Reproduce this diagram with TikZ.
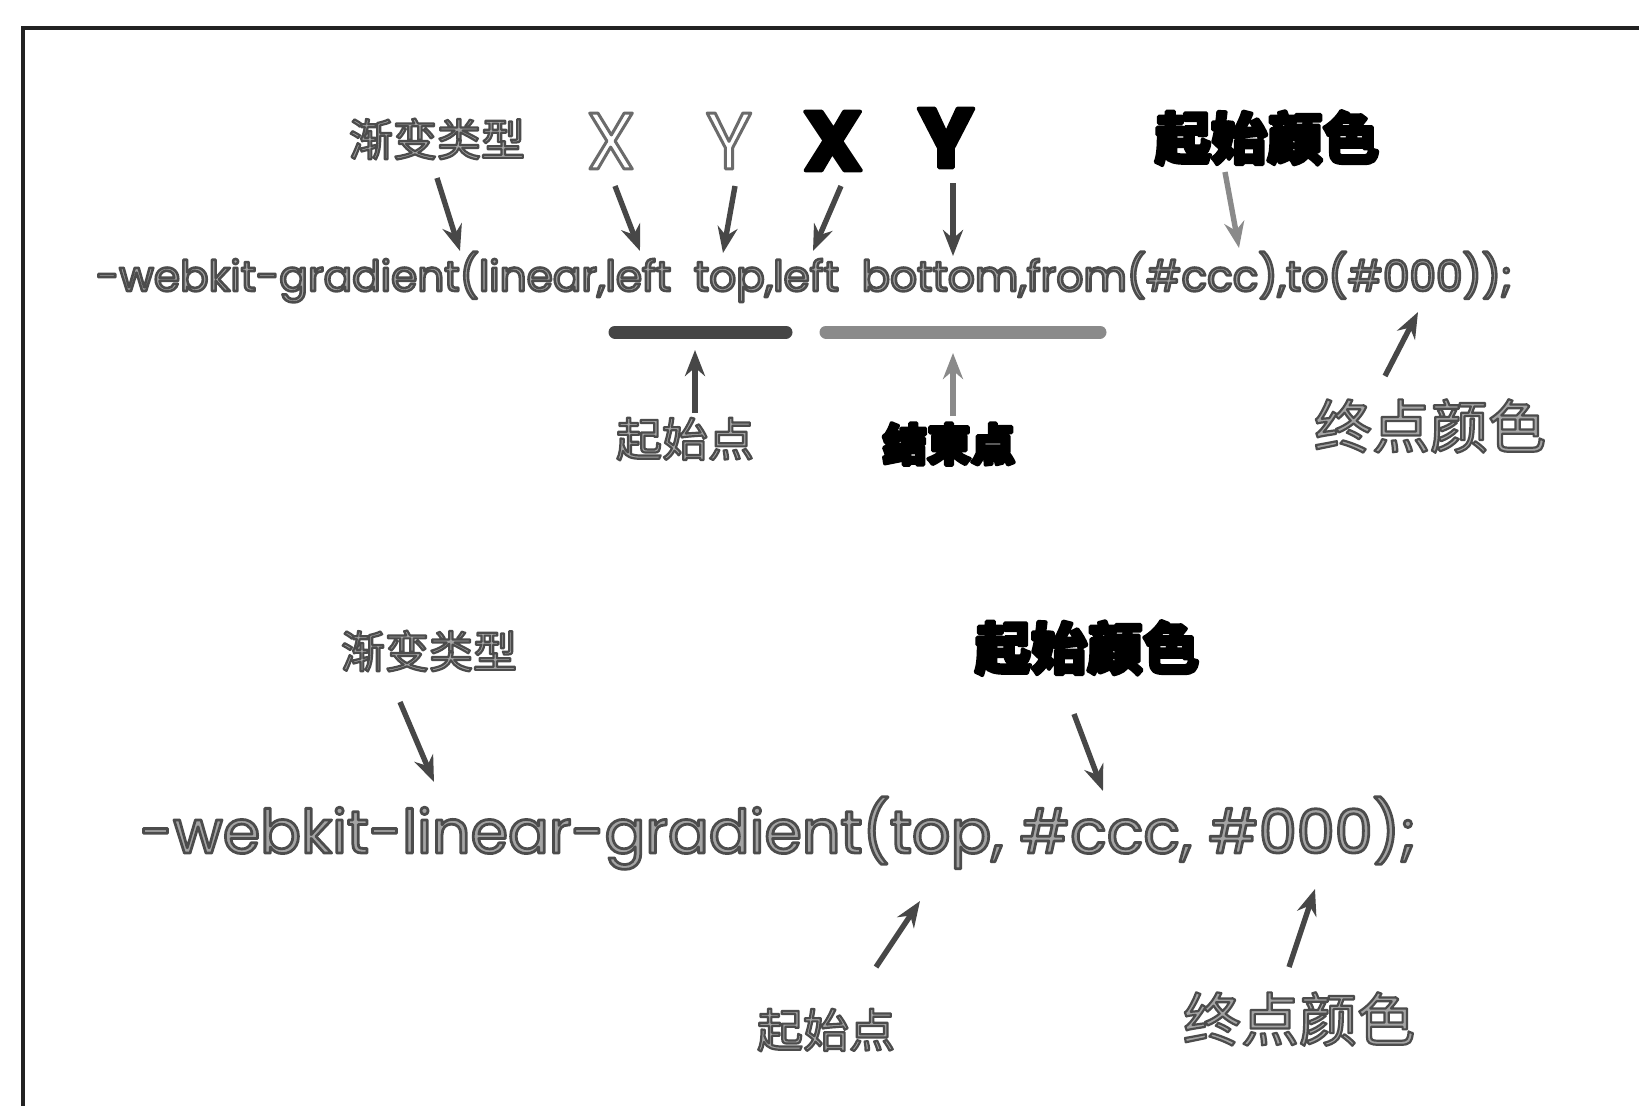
\documentclass[tikz,border=0pt]{standalone}
\usepackage{fontspec}
\setmainfont{Poppins}
\newfontfamily\cjk{Noto Sans CJK SC}
\newfontfamily\geo{Poppins}
\usetikzlibrary{arrows.meta}
\definecolor{arrcol}{HTML}{474747}
\definecolor{txtfill}{HTML}{A4A4A4}
\definecolor{barA}{HTML}{454545}
\definecolor{barB}{HTML}{8A8A8A}
\definecolor{framec}{HTML}{222222}
% outlined text via PDF text render mode 2 (fill + stroke)
\newcommand\grtx[1]{\textcolor{txtfill}{\special{pdf:literal direct 0.30 0.30 0.30 RG 1.1 w 1 j 2 Tr}#1\special{pdf:literal direct 0 Tr}}}
\newcommand\bktx[1]{\textcolor{black}{\special{pdf:literal direct 0 0 0 RG 1.8 w 1 j 2 Tr}#1\special{pdf:literal direct 0 Tr}}}
\newcommand\hotx[1]{\textcolor{white}{\special{pdf:literal direct 0.42 0.42 0.42 RG 1.5 w 1 j 2 Tr}#1\special{pdf:literal direct 0 Tr}}}
\newcommand\lab[6]{%
  \node[lbl] (#1) at (#2,#3) {#4#5{#6}};
}
\tikzset{
  lbl/.style={inner sep=0pt, anchor=center},
  arr/.style={draw=arrcol, line width=2.7pt, -{Stealth[length=13pt,width=10pt]}},
  barstyle/.style={line width=6.5pt, line cap=round},
}
\begin{document}
\begin{tikzpicture}[x=0.5pt,y=-0.5pt]
\useasboundingbox (0,0) rectangle (1639,1105);
\clip (0,0) rectangle (1639,1105);
\fill[white] (0,0) rectangle (1639,1105);
% frame
\draw[framec, line width=1.6pt] (23,1200) -- (23,28) -- (1700,28);

% ---------- top part ----------
\lab{t1}{437}{139}{\cjk\fontsize{22pt}{22pt}\selectfont}{\grtx}{渐变类型}
\lab{xh}{611}{141}{\geo\fontsize{40pt}{40pt}\selectfont}{\hotx}{X}
\lab{yh}{729}{141}{\geo\fontsize{40pt}{40pt}\selectfont}{\hotx}{Y}
\lab{xb}{833}{141}{\geo\bfseries\fontsize{42pt}{42pt}\selectfont}{\bktx}{X}
\lab{yb}{946}{138}{\geo\bfseries\fontsize{42pt}{42pt}\selectfont}{\bktx}{Y}
\lab{sc1}{1267}{138}{\cjk\bfseries\fontsize{28pt}{28pt}\selectfont}{\bktx}{起始颜色}

\node[lbl] (code1) at (804,277) {\resizebox{708pt}{!}{\geo\fontsize{18pt}{18pt}\selectfont\grtx{-webkit-gradient(linear,left\ \ top,left\ \ bottom,from(\#ccc),to(\#000));}}};

\coordinate (a1s) at (437,178);  \coordinate (a1e) at (460,251);
\coordinate (a2s) at (615,186);  \coordinate (a2e) at (640,251);
\coordinate (a3s) at (735,186);  \coordinate (a3e) at (723,253);
\coordinate (a4s) at (841,186);  \coordinate (a4e) at (813,251);
\coordinate (a5s) at (953,183);  \coordinate (a5e) at (953,256);
\coordinate (a6s) at (1225,172); \coordinate (a6e) at (1239,248);
\draw[arr] (a1s) -- (a1e);
\draw[arr] (a2s) -- (a2e);
\draw[arr] (a3s) -- (a3e);
\draw[arr] (a4s) -- (a4e);
\draw[arr] (a5s) -- (a5e);
\draw[arr, draw=barB] (a6s) -- (a6e);

% bars
\draw[barstyle, barA] (615,332) -- (786,332);
\draw[barstyle, barB] (826,332) -- (1100,332);

\lab{sp1}{685}{439}{\cjk\fontsize{23pt}{23pt}\selectfont}{\grtx}{起始点}
\lab{ep1}{949}{444}{\cjk\bfseries\fontsize{22pt}{22pt}\selectfont}{\bktx}{结束点}
\lab{ec1}{1430}{426}{\cjk\fontsize{29pt}{29pt}\selectfont}{\grtx}{终点颜色}

\coordinate (b1s) at (695,413);  \coordinate (b1e) at (695,350);
\coordinate (b2s) at (953,416);  \coordinate (b2e) at (953,353);
\coordinate (b3s) at (1385,376); \coordinate (b3e) at (1418,312);
\draw[arr] (b1s) -- (b1e);
\draw[arr, draw=barB] (b2s) -- (b2e);
\draw[arr] (b3s) -- (b3e);

% ---------- bottom part ----------
\lab{t2}{429}{651}{\cjk\fontsize{22pt}{22pt}\selectfont}{\grtx}{渐变类型}
\lab{sc2}{1087}{648}{\cjk\bfseries\fontsize{28pt}{28pt}\selectfont}{\bktx}{起始颜色}

\node[lbl] (code2) at (778,833) {\resizebox{638pt}{!}{\geo\fontsize{24pt}{24pt}\selectfont\grtx{-webkit-linear-gradient(top, \#ccc, \#000);}}};

\coordinate (c1s) at (400,702);  \coordinate (c1e) at (434,782);
\coordinate (c2s) at (1074,714); \coordinate (c2e) at (1103,791);
\coordinate (c3s) at (876,967);  \coordinate (c3e) at (920,901);
\coordinate (c4s) at (1289,967); \coordinate (c4e) at (1315,889);
\draw[arr] (c1s) -- (c1e);
\draw[arr] (c2s) -- (c2e);
\draw[arr] (c3s) -- (c3e);
\draw[arr] (c4s) -- (c4e);

\lab{sp2}{826}{1030}{\cjk\fontsize{23pt}{23pt}\selectfont}{\grtx}{起始点}
\lab{ec2}{1299}{1019}{\cjk\fontsize{29pt}{29pt}\selectfont}{\grtx}{终点颜色}
\end{tikzpicture}
\end{document}
